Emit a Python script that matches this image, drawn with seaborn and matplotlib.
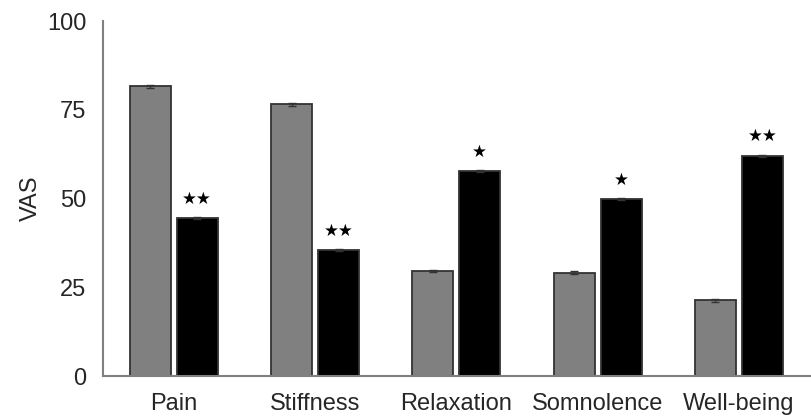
import pandas as pd
import matplotlib
matplotlib.use("Agg")
import matplotlib.pyplot as plt
import seaborn as sns

# values
categories = ["Pain", "Stiffness", "Relaxation", "Somnolence", "Well-being"]
groups = ["Before", "After"]
before_vals = [81.7, 76.6, 29.6, 29.1, 21.4]
after_vals = [44.5, 35.5, 57.7, 49.8, 62.0]
before_err = [0.4, 0.4, 0.4, 0.4, 0.4]
after_err = [0.3, 0.3, 0.3, 0.3, 0.3]
after_marks = ["★★", "★★", "★", "★", "★★"]

df = pd.DataFrame({
    "category": categories * 2,
    "group": [groups[0]] * len(categories) + [groups[1]] * len(categories),
    "VAS": before_vals + after_vals,
    "err": before_err + after_err,
})

sns.set_style("white")
plt.rcParams["font.family"] = ["Liberation Sans", "DejaVu Sans"]

fig = plt.figure(figsize=(8.12, 4.16), dpi=100)
ax = fig.add_axes([0.127, 0.096, 0.870, 0.853])

sns.barplot(data=df, x="category", y="VAS", hue="group", order=categories,
            hue_order=groups, palette=["#808080", "#000000"], width=0.664,
            gap=0.127, errorbar=None, edgecolor="#333333", linewidth=1.3,
            legend=False, ax=ax)

# error bars and significance stars placed on the drawn bars
for g, (vals, errs) in enumerate([(before_vals, before_err), (after_vals, after_err)]):
    bars = ax.containers[g]
    for i, rect in enumerate(bars):
        xc = rect.get_x() + rect.get_width() / 2
        ax.errorbar(xc, vals[i], yerr=errs[i], fmt="none", ecolor="#333333",
                    elinewidth=1, capsize=3, capthick=1)
        if g == 1:
            ax.text(xc, vals[i] + 3.0, after_marks[i], ha="center", va="bottom",
                    fontsize=12, family=["DejaVu Sans"], color="black")

ax.set_xlim(-0.5, len(categories) - 0.5)
ax.set_ylim(0, 100)
ax.set_yticks([0, 25, 50, 75, 100])
ax.set_xlabel("")
ax.set_ylabel("VAS", fontsize=17, labelpad=4)
ax.tick_params(axis="y", labelsize=17, length=0, pad=12)
ax.tick_params(axis="x", labelsize=17, length=0, pad=12)
ax.set_xticks([i + 0.5 for i in range(len(categories))], minor=True)
ax.tick_params(axis="x", which="minor", length=3, color="#808080", width=1)

sns.despine(ax=ax)
for side in ["left", "bottom"]:
    ax.spines[side].set_color("#808080")
    ax.spines[side].set_linewidth(1.5)

fig.savefig("out.png", dpi=100)
